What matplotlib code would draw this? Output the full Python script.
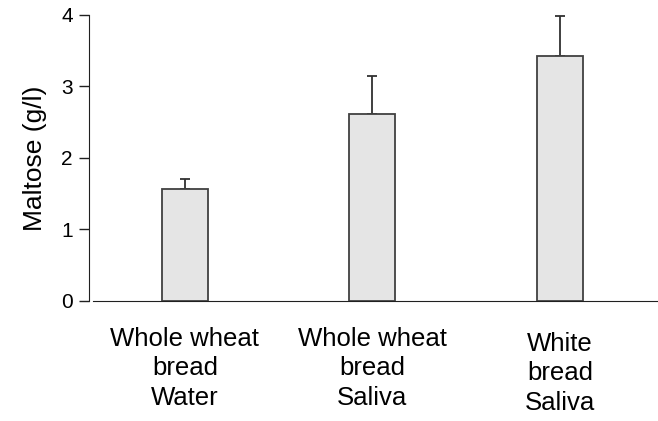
import matplotlib
matplotlib.use("Agg")
import matplotlib.pyplot as plt
import matplotlib.transforms as mtransforms

# maltose after chewing, mean with upper SD bar
groups = ["Whole wheat\nbread\nWater", "Whole wheat\nbread\nSaliva", "White\nbread\nSaliva"]
maltose = [1.56, 2.61, 3.43]
sd = [0.14, 0.54, 0.55]
label_drop = [26, 26, 31]   # px below the axis for each label block

plt.rcParams['font.family'] = ['Liberation Sans', 'DejaVu Sans']

fig = plt.figure(figsize=(6.58, 4.21), dpi=100)
ax = fig.add_axes([0.136, 0.2857, 0.864, 0.6787])

x = list(range(len(groups)))
ax.bar(x, maltose, width=0.245, color='#e5e5e5', edgecolor='#404040',
       linewidth=1.3, zorder=3)
ax.errorbar(x, maltose, yerr=[[0] * len(sd), sd], fmt='none',
            ecolor='#303030', elinewidth=1.3, capsize=3.8, capthick=1.3, zorder=2)

ax.set_xlim(-0.509, 2.523)
ax.set_ylim(0, 4)
ax.set_yticks([0, 1, 2, 3, 4])
ax.tick_params(axis='y', length=7, width=1, labelsize=15, pad=5, color='#202020')
ax.set_xticks([])

for s in ['top', 'right']:
    ax.spines[s].set_visible(False)
ax.spines['left'].set_color('#202020')
ax.spines['bottom'].set_color('#202020')
ax.spines['bottom'].set_bounds(-0.49, 2.523)

ax.set_ylabel("Maltose (g/l)", fontsize=19, labelpad=10)

for xi, lab, drop in zip(x, groups, label_drop):
    trans = mtransforms.offset_copy(ax.get_xaxis_transform(), fig=fig,
                                    x=0, y=-drop * 72 / 100, units='points')
    ax.text(xi, 0, lab, transform=trans, ha='center', va='top',
            fontsize=18.5, linespacing=1.3)

fig.savefig("out.png", dpi=100)
